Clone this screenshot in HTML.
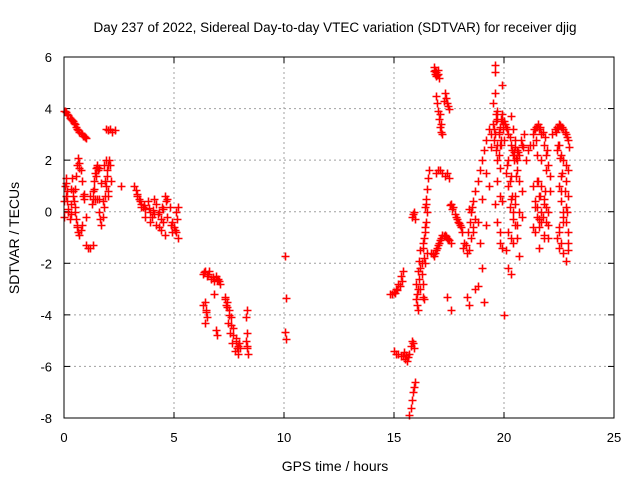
<!DOCTYPE html>
<html><head><meta charset="utf-8"><style>
body{margin:0;background:#fff}
svg{display:block;font-family:"Liberation Sans",sans-serif}
</style></head><body>
<svg id="chart" width="640" height="480" viewBox="0 0 640 480">
<rect width="640" height="480" fill="#fff"/>
<text x="335" y="32" font-size="13.5" text-anchor="middle">Day 237 of 2022, Sidereal Day-to-day VTEC variation (SDTVAR) for receiver djig</text>
<g id="grid"></g>
<g id="ticks"></g>
<g id="marks"></g>
<rect x="64" y="57" width="550" height="361" fill="none" stroke="#000" stroke-width="1"/>
<text x="335" y="471" font-size="14" text-anchor="middle">GPS time / hours</text>
<text x="19" y="238" font-size="14" text-anchor="middle" transform="rotate(-90 19 238)">SDTVAR / TECUs</text>
</svg>
<script>
const xTicks=[0,5,10,15,20,25];
const yTicks=[-8,-6,-4,-2,0,2,4,6];
const tData=[0,0.05,0.1,0.15,0.2,0.3,0.4,0.5,0.6,0.7,0.8,0.9,1.0,
1.9,2.0,2.1,2.2,2.3,
0,0.02,0.05,0.08,0.1,0.12,0.15,0.2,0.25,0.3,0.3,0.35,0.4,0.45,0.5,0.55,0.6,0.65,0.7,0.75,0.8,0.85,0.45,0.5,0.55,0.6,0.65,0.7,0.75,0.8,0.9,
1.0,1.1,1.2,1.3,1.25,1.3,1.35,1.4,1.45,1.5,1.55,1.3,1.4,1.5,1.6,1.7,1.75,1.8,1.85,1.9,1.95,2.0,2.05,2.1,2.15,1.6,2.0,2.6,1.8,1.9,2.0,1.0,0.9,1.2,
3.2,3.3,3.4,3.5,3.6,3.7,3.8,3.9,4.0,4.1,4.2,4.3,4.4,4.5,4.6,4.7,4.8,4.9,5.0,5.1,5.2,3.3,3.5,3.7,3.9,4.1,4.3,4.5,4.7,4.9,5.1,5.2,4.2,4.4,4.6,
6.3,6.4,6.5,6.6,6.7,6.8,6.9,7.0,7.1,6.8,6.4,6.45,6.5,6.4,6.3,6.9,6.95,7.3,7.4,7.5,7.6,7.7,7.8,7.9,8.0,7.9,7.8,7.7,7.6,7.5,7.4,7.3,8.3,8.3,8.25,8.3,8.35,
10.05,10.1,10.05,10.1,
14.8,14.9,15.0,15.1,15.2,15.3,15.4,15.0,15.1,15.2,15.3,15.4,15.5,15.6,15.7,15.75,15.8,15.85,15.9,15.7,15.75,15.8,15.85,15.9,15.95,
15.8,15.85,15.9,15.95,16.0,16.0,16.05,16.1,16.1,16.15,16.2,16.2,16.25,16.3,16.3,16.35,16.4,16.4,16.45,16.5,16.5,16.3,16.35,16.4,16.45,16.5,16.55,16.6,
16.8,16.85,16.9,16.95,17.0,17.05,16.9,16.95,17.0,17.05,17.1,17.15,17.2,17.3,17.35,17.4,17.45,17.5,
16.9,17.0,17.1,17.2,17.3,17.4,17.5,16.7,16.8,16.9,17.0,17.1,17.2,17.3,17.4,17.5,17.6,
17.6,17.7,17.8,17.9,18.0,17.4,17.6,18.1,18.2,18.3,18.4,18.5,18.6,18.7,18.3,18.4,18.7,18.8,18.4,
18.5,18.6,18.7,18.8,18.9,19.0,19.1,19.2,19.3,18.6,18.8,19.0,19.2,19.4,18.9,19.0,19.1,19.2,19.3,
19.4,19.5,19.5,19.6,19.6,19.6,19.7,19.7,19.7,19.7,19.8,19.8,19.8,19.8,19.9,19.9,19.9,20.0,20.0,19.6,19.7,19.8,19.6,19.7,19.9,19.9,19.8,
20.0,20.1,20.2,20.3,20.4,20.5,20.6,20.7,20.8,20.9,20.1,20.2,20.3,20.4,20.5,20.6,20.7,20.8,20.1,20.2,20.3,20.4,20.5,20.6,20.7,20.3,20.4,20.5,20.2,20.6,20.3,20.7,20.2,20.5,20.4,20.8,20.3,20.6,
21.0,21.1,21.2,21.3,21.4,21.5,21.6,21.7,21.8,21.9,22.0,22.1,21.3,21.5,21.7,21.9,22.1,21.3,21.4,21.5,21.6,21.7,21.8,21.9,22.0,21.4,21.6,21.8,22.0,21.5,21.7,21.9,21.3,21.6,21.8,22.0,21.5,21.7,
22.2,22.3,22.4,22.5,22.6,22.7,22.8,22.9,22.4,22.5,22.6,22.7,22.8,22.9,22.5,22.6,22.7,22.8,22.9,22.4,22.5,22.6,22.7,22.8,22.9,22.6,22.8,22.5,22.7,22.9,22.6,22.8,
0.05,0.15,0.25,0.35,0.45,0.55,0.65,0.75,0.85,0.95,0.1,0.2,0.3,0.4,0.5,0.6,0.7,1.35,1.45,1.5,1.6,1.7,1.65,1.75,1.85,1.95,3.25,3.45,3.65,3.85,4.05,4.25,4.45,4.65,4.85,5.05,5.15,
6.35,6.55,6.75,6.95,7.05,6.45,7.35,7.45,7.55,7.65,7.75,7.85,7.95,8.28,8.32,
15.05,15.15,15.25,15.35,15.45,15.55,15.65,16.05,16.15,16.25,16.35,16.45,16.1,16.2,16.3,16.4,16.82,16.88,16.92,16.98,17.02,17.08,17.12,17.25,16.75,16.85,16.95,17.05,17.15,17.25,17.35,17.45,17.55,17.65,17.75,17.85,17.95,18.05,18.15,18.25,18.35,18.45,18.55,
19.55,19.65,19.75,19.85,19.95,19.55,19.65,19.75,19.85,19.95,19.65,19.75,19.85,20.05,20.15,20.25,20.35,20.45,20.55,20.65,20.75,20.85,20.15,20.25,20.35,20.45,20.55,20.25,20.35,
21.35,21.45,21.55,21.65,21.75,21.85,21.95,21.45,21.55,21.65,21.75,21.85,21.4,21.6,21.8,22.35,22.45,22.55,22.65,22.75,22.85,22.95,22.45,22.55,22.65,22.75,22.85,22.5,22.7,22.9];
const vData=[3.9,3.9,3.85,3.8,3.75,3.6,3.5,3.4,3.2,3.1,3.0,2.95,2.85,
3.2,3.15,3.2,3.1,3.15,
-0.2,0.4,1.0,1.3,1.1,0.8,0.4,0.0,-0.3,0.3,0.9,1.3,0.8,0.4,0.0,-0.3,-0.5,-0.8,-0.9,-0.7,-0.5,0.6,0.4,0.9,1.4,1.8,2.1,1.9,1.6,1.2,0.7,
-1.3,-1.4,-1.4,-1.3,0.3,0.8,1.2,1.5,1.7,1.8,1.6,0.5,0.5,0.5,0.5,-0.5,-0.2,0.2,0.6,1.0,1.4,1.8,2.0,1.8,1.2,0.0,0.6,1.0,1.8,2.0,0.8,-0.2,0.5,0.6,
1.0,0.7,0.5,0.3,0.2,0.1,0.4,0.0,-0.2,0.5,0.3,0.0,-0.3,0.1,0.6,0.5,0.2,-0.4,-0.6,-0.8,-1.0,0.6,0.2,-0.2,-0.4,-0.1,-0.6,-0.4,-0.2,-0.8,0.0,0.2,-0.5,-0.7,-0.9,
-2.4,-2.3,-2.5,-2.3,-2.6,-2.7,-2.5,-2.6,-2.8,-3.2,-3.5,-3.8,-4.1,-4.3,-3.6,-4.6,-4.8,-3.3,-3.5,-3.8,-4.1,-4.5,-4.9,-5.2,-5.3,-5.5,-5.0,-4.8,-4.4,-4.0,-3.7,-3.4,-3.8,-4.7,-5.0,-5.3,-5.5,
-1.7,-3.35,-4.65,-4.95,
-3.2,-3.2,-3.1,-3.0,-2.8,-2.5,-2.3,-5.4,-5.5,-5.5,-5.6,-5.6,-5.7,-5.8,-5.5,-5.2,-5.0,-5.1,-5.3,-7.9,-7.6,-7.3,-7.0,-6.8,-6.6,
-0.2,-0.1,0.0,-0.3,-3.4,-2.8,-3.6,-2.3,-3.8,-1.9,-1.5,-3.0,-2.4,-1.2,-2.8,-1.8,-0.8,-2.0,-0.4,0.0,-1.6,-3.3,-3.4,0.2,0.5,0.9,1.3,1.6,
5.6,5.5,5.4,5.3,5.5,5.2,4.5,4.2,3.9,3.6,3.3,3.1,3.0,4.6,4.4,4.2,4.1,4.0,
1.5,1.6,1.6,1.5,1.4,1.5,1.3,-1.6,-1.7,-1.5,-1.3,-1.1,-0.9,-0.9,-1.0,-1.1,-1.2,
0.3,0.2,-0.2,-0.4,-0.5,-3.3,-3.8,-0.8,-1.2,-1.6,-1.5,-1.0,-0.6,-0.3,-3.3,-3.6,-3.0,-2.9,0.1,
0.0,0.4,0.8,1.2,1.6,2.0,2.4,2.8,3.2,-0.8,-0.4,0.5,1.5,2.5,-1.2,-2.2,-3.5,-0.5,1.0,
3.0,3.4,4.2,5.7,5.4,3.0,2.6,2.0,1.2,3.6,3.3,2.6,0.6,-0.8,4.9,3.8,-1.4,-4.0,2.8,0.3,-0.4,-1.2,4.6,3.9,3.5,0.4,1.7,
3.5,3.3,3.0,2.6,2.2,2.5,2.0,2.2,2.6,3.0,1.5,1.0,0.5,0.0,-0.5,-1.0,1.2,0.8,-1.5,-2.2,-1.0,-0.3,0.3,1.6,0.0,3.7,3.2,2.8,2.0,-0.5,-2.4,-1.7,-0.8,0.6,-1.2,-0.2,1.4,2.4,
2.0,2.4,2.6,3.0,3.2,3.3,3.2,3.0,2.6,2.2,1.8,1.4,2.6,2.2,2.0,1.6,0.8,1.0,0.4,-0.2,-0.6,0.0,0.5,-0.4,-1.0,-0.8,-1.4,-1.0,-0.5,0.2,-0.4,0.2,-0.6,0.6,0.3,0.0,1.2,1.0,
3.0,3.2,3.3,3.4,3.3,3.2,3.0,2.8,2.4,2.6,2.2,2.0,1.8,1.6,1.0,0.4,0.0,-0.4,-0.8,-1.0,-1.4,-1.2,-1.6,-1.9,-1.5,0.8,0.2,-0.6,-0.2,0.6,1.4,1.2,
3.9,3.8,3.65,3.55,3.45,3.3,3.15,3.05,2.95,2.9,0.6,0.1,-0.1,0.6,0.2,-0.6,1.7,0.9,1.4,1.75,1.7,1.1,-0.3,0.4,1.2,1.6,0.85,0.4,0.25,0.15,0.05,-0.1,0.2,0.4,-0.5,-0.7,-0.3,
-2.35,-2.4,-2.55,-2.65,-2.7,-3.9,-3.6,-4.3,-4.7,-5.1,-5.4,-5.3,-5.1,-4.1,-5.2,
-3.15,-3.05,-2.9,-2.7,-5.45,-5.55,-5.65,-3.2,-2.6,-2.0,-1.0,0.3,-3.0,-2.2,-1.4,-0.6,5.45,5.35,5.25,5.5,5.35,3.8,3.4,4.3,-1.65,-1.6,-1.4,-1.2,-1.0,-0.95,-0.95,-1.05,0.25,0.1,-0.1,-0.3,-0.45,-0.6,-1.4,-1.3,-0.8,-0.4,0.2,
3.2,3.5,3.0,3.6,3.2,2.8,2.4,2.2,2.8,3.4,3.8,3.1,2.6,3.4,3.2,2.9,2.4,2.3,2.1,2.3,2.8,2.5,1.8,1.2,0.6,2.0,1.4,0.2,0.6,
3.2,3.3,3.4,3.3,3.1,2.9,2.4,2.8,1.2,0.6,-0.2,0.8,0.2,-0.3,-0.9,3.1,3.25,3.35,3.3,3.1,2.9,2.5,2.6,2.1,1.5,0.8,0.0,-0.8,-0.4,-1.2];
const sx=t=>64+t*22, sy=v=>57+(6-v)*(361/14);
const NS='http://www.w3.org/2000/svg';
const grid=document.getElementById('grid'), ticks=document.getElementById('ticks'), marks=document.getElementById('marks');
function mk(tag,attrs,parent){const e=document.createElementNS(NS,tag);for(const k in attrs)e.setAttribute(k,attrs[k]);parent.appendChild(e);return e;}
xTicks.forEach(t=>{
  const x=sx(t);
  if(t>0&&t<25){const l=mk('line',{x1:x,y1:57,x2:x,y2:418,stroke:'#a0a0a0','stroke-dasharray':'2,3'},grid);
  
  }
  mk('line',{x1:x,y1:418,x2:x,y2:412,stroke:'#000'},grid);
  mk('line',{x1:x,y1:57,x2:x,y2:63,stroke:'#000'},grid);
  const tx=mk('text',{x:x,y:442,'font-size':13,'text-anchor':'middle'},ticks);tx.textContent=t;
  
  
});
yTicks.forEach(v=>{
  const y=sy(v);
  if(v>-8&&v<6){const l=mk('line',{x1:64,y1:y,x2:614,y2:y,stroke:'#a0a0a0','stroke-dasharray':'2,3'},grid);
  
  }
  mk('line',{x1:64,y1:y,x2:70,y2:y,stroke:'#000'},grid);
  mk('line',{x1:614,y1:y,x2:608,y2:y,stroke:'#000'},grid);
  const tx=mk('text',{x:52,y:y+5,'font-size':13,'text-anchor':'end'},ticks);tx.textContent=v;
  
  
});
let d='';
const n=Math.min(tData.length,vData.length);
for(let i=0;i<n;i++){
  const x=Math.round(sx(tData[i]))+0.5, y=Math.round(sy(vData[i]))+0.5;
  d+=`M${x-4} ${y}h8M${x} ${y-4}v8`;
}
const p=mk('path',{d:d,stroke:'#ff0000','stroke-width':1.6,fill:'none'},marks);


</script>
</body></html>
